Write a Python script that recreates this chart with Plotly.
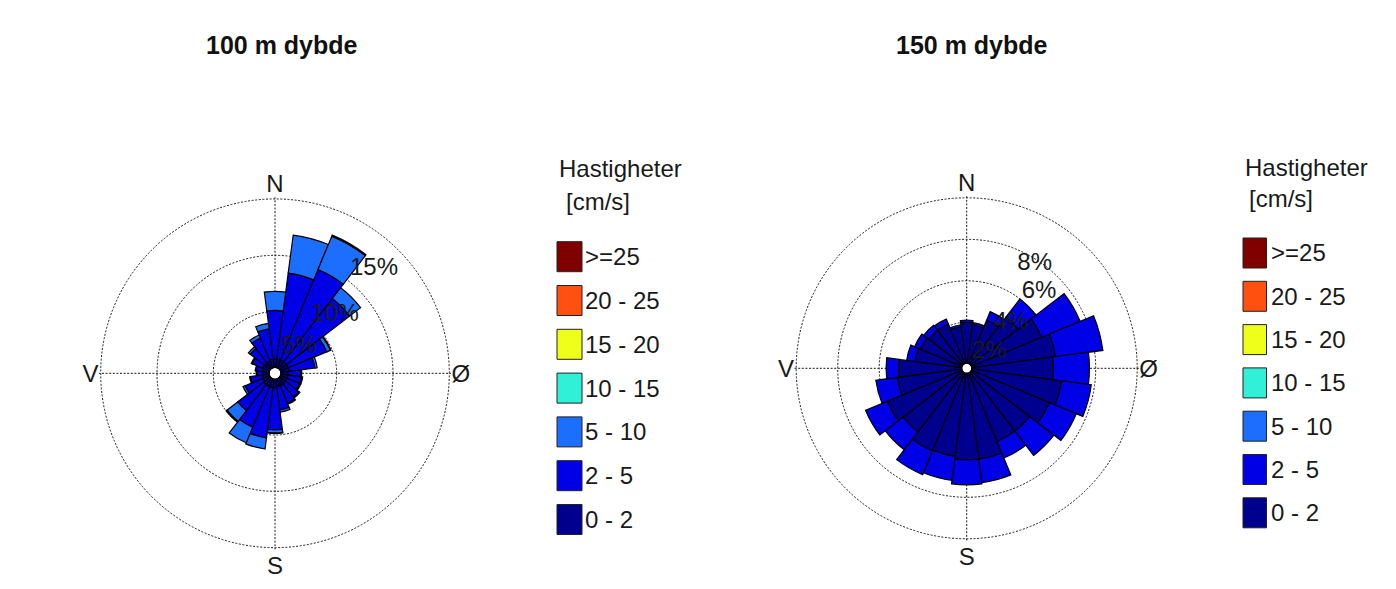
import plotly.graph_objects as go

# ---------------------------------------------------------------
# Current roses, 100 m and 150 m depth.
# Frequency (%) per 15 degree direction sector, split by speed class.
# ---------------------------------------------------------------
directions = [0, 15, 30, 45, 60, 75, 90, 105, 120, 135, 150, 165,
              180, 195, 210, 225, 240, 255, 270, 285, 300, 315, 330, 345]

speed_classes = ["0 - 2", "2 - 5", "5 - 10", "10 - 15", "15 - 20", "20 - 25", ">=25"]
class_colors = ["#00008F", "#0000E6", "#1C6EFF", "#30F0D8", "#EEFF1A", "#FF5010", "#800000"]

# 100 m depth
d100_0_2 = [0.8, 0.8, 0.8, 0.8, 0.8, 0.8, 0.7, 0.7, 0.7, 0.7, 0.7, 0.7,
            0.8, 0.8, 0.8, 0.8, 0.7, 0.7, 0.6, 0.6, 0.7, 0.7, 0.7, 0.8]
d100_2_5 = [4.3, 7.7, 8.7, 7.1, 3.7, 2.3, 1.1, 1.2, 1.2, 1.5, 1.7, 2.1,
            3.75, 4.5, 3.9, 2.9, 1.7, 1.0, 0.55, 0.65, 1.0, 1.6, 2.2, 2.7]
d100_5_10 = [1.7, 3.4, 3.2, 1.2, 0.35, 0.2, 0.1, 0.1, 0.1, 0.1, 0.1, 0.2,
             0.25, 1.0, 1.5, 1.2, 0.2, 0.1, 0.05, 0.05, 0.1, 0.2, 0.3, 0.5]
d100_10_15 = [0, 0, 0.1, 0, 0.05, 0, 0, 0, 0, 0, 0, 0,
              0.05, 0, 0, 0.1, 0, 0, 0, 0, 0, 0, 0, 0]
d100_15_20 = [0, 0, 0, 0, 0, 0, 0, 0, 0, 0, 0, 0,
              0, 0, 0, 0, 0, 0, 0, 0, 0, 0, 0, 0]
d100_20_25 = [0, 0, 0, 0, 0, 0, 0, 0, 0, 0, 0, 0,
              0, 0, 0, 0, 0, 0, 0, 0, 0, 0, 0, 0]
d100_25_up = [0, 0, 0, 0, 0, 0, 0, 0, 0, 0, 0, 0,
              0, 0, 0, 0, 0, 0, 0, 0, 0, 0, 0, 0]

# 150 m depth
d150_0_2 = [2.0, 1.9, 2.3, 2.9, 3.7, 4.1, 3.96, 4.4, 4.1, 3.6, 3.6, 4.2,
            4.2, 4.06, 4.1, 3.65, 3.93, 3.16, 3.07, 2.3, 2.2, 2.1, 2.1, 1.8]
d150_2_5 = [0.1, 0.1, 0.44, 1.1, 2.0, 2.3, 1.74, 1.44, 1.4, 1.48, 0.86, 1.14,
            1.2, 1.17, 1.23, 1.08, 1.13, 1.04, 0.6, 0.4, 0.3, 0.3, 0.25, 0.1]
d150_5_10 = [0, 0, 0, 0, 0, 0, 0, 0, 0, 0, 0, 0,
             0, 0, 0, 0, 0, 0, 0, 0, 0, 0, 0, 0]
d150_10_15 = [0, 0, 0, 0, 0, 0, 0, 0, 0, 0, 0, 0,
              0, 0, 0, 0, 0, 0, 0, 0, 0, 0, 0, 0]
d150_15_20 = [0, 0, 0, 0, 0, 0, 0, 0, 0, 0, 0, 0,
              0, 0, 0, 0, 0, 0, 0, 0, 0, 0, 0, 0]
d150_20_25 = [0, 0, 0, 0, 0, 0, 0, 0, 0, 0, 0, 0,
              0, 0, 0, 0, 0, 0, 0, 0, 0, 0, 0, 0]
d150_25_up = [0, 0, 0, 0, 0, 0, 0, 0, 0, 0, 0, 0,
              0, 0, 0, 0, 0, 0, 0, 0, 0, 0, 0, 0]

rose_100 = [d100_0_2, d100_2_5, d100_5_10, d100_10_15, d100_15_20, d100_20_25, d100_25_up]
rose_150 = [d150_0_2, d150_2_5, d150_5_10, d150_10_15, d150_15_20, d150_20_25, d150_25_up]

titles = ["100 m dybde", "150 m dybde"]
compass_text = ["N", "Ø", "S", "V"]
compass_angles = [0, 90, 180, 270]

rings_100 = [5, 10, 15]
rings_150 = [2, 4, 6, 8]
# percent labels: text, radial position, compass angle
pct_labels_100 = ["5%", "10%", "15%"]
pct_r_100 = [2.66, 6.96, 12.27]
pct_theta_100 = [42.7, 45.7, 43.6]
pct_labels_150 = ["2%", "4%", "6%", "8%"]
pct_r_150 = [1.13, 2.82, 4.84, 5.77]
pct_theta_150 = [53.2, 44.4, 43.6, 33.2]

W, H = 1396, 589
FONT = "Liberation Sans, Arial, Helvetica, sans-serif"
TEXT_COLOR = "#1a1a1a"
GRID_COLOR = "#1a1a1a"
GRID_DASH = "2px,1.6px"


def px_x(x):
    return x / W


def px_y(y):
    return 1 - y / H


fig = go.Figure()

for rose, subplot in [(rose_100, "polar"), (rose_150, "polar2")]:
    for values, name, color in zip(rose, speed_classes, class_colors):
        fig.add_trace(go.Barpolar(
            r=values, theta=directions, width=15, name=name,
            marker=dict(color=color, line=dict(color="#000000", width=1.2)),
            subplot=subplot, showlegend=False, hoverinfo="skip",
        ))

for labels, rr, tt, subplot in [(pct_labels_100, pct_r_100, pct_theta_100, "polar"),
                                (pct_labels_150, pct_r_150, pct_theta_150, "polar2")]:
    fig.add_trace(go.Scatterpolar(
        r=rr, theta=tt, mode="text", text=labels, textposition="middle center",
        textfont=dict(family=FONT, size=24, color=TEXT_COLOR),
        subplot=subplot, showlegend=False, hoverinfo="skip",
    ))


def polar_layout(cx, cy, hole_px, px_per_pct, rings):
    # leave a small margin beyond the outermost ring so it is drawn as a grid circle
    rmax = rings[-1] * 1.01
    rad = hole_px + px_per_pct * rmax
    return dict(
        domain=dict(x=[px_x(cx - rad), px_x(cx + rad)],
                    y=[px_y(cy + rad), px_y(cy - rad)]),
        hole=hole_px / rad,
        bgcolor="white",
        barmode="stack",
        radialaxis=dict(range=[0, rmax], tickvals=rings, showticklabels=False,
                        ticks="", showline=False, showgrid=True,
                        gridcolor=GRID_COLOR, gridwidth=1.2, griddash=GRID_DASH),
        angularaxis=dict(rotation=90, direction="clockwise",
                         tickvals=compass_angles, ticktext=compass_text,
                         ticks="", showline=False, showgrid=True,
                         gridcolor=GRID_COLOR, gridwidth=1.2, griddash=GRID_DASH,
                         tickfont=dict(family=FONT, size=24, color=TEXT_COLOR)),
    )


fig.update_layout(
    width=W, height=H,
    margin=dict(l=0, r=0, t=0, b=0),
    paper_bgcolor="white",
    polar=polar_layout(275, 373.3, 5.4, 11.26, rings_100),
    polar2=polar_layout(966.7, 368.3, 4.5, 20.75, rings_150),
)

shapes = []
annotations = []

# panel titles
for text, cx in zip(titles, [282, 972]):
    annotations.append(dict(
        x=px_x(cx), y=px_y(45), xref="paper", yref="paper", showarrow=False,
        text="<b>%s</b>" % text, xanchor="center", yanchor="middle",
        font=dict(family=FONT, size=25, color="#111111")))

# speed class legends
legend_specs = [
    dict(x0=557, w=25, title_y=169, unit_x=564, unit_y=201, y0=256.7, step=43.8, text_x=583),
    dict(x0=1243, w=23.5, title_y=167, unit_x=1247, unit_y=199, y0=253.0, step=43.3, text_x=1269),
]
for spec in legend_specs:
    annotations.append(dict(
        x=px_x(spec["x0"]), y=px_y(spec["title_y"]), xref="paper", yref="paper",
        showarrow=False, text="Hastigheter", xanchor="left", yanchor="middle",
        font=dict(family=FONT, size=24, color=TEXT_COLOR)))
    annotations.append(dict(
        x=px_x(spec["unit_x"]), y=px_y(spec["unit_y"]), xref="paper", yref="paper",
        showarrow=False, text="[cm/s]", xanchor="left", yanchor="middle",
        font=dict(family=FONT, size=24, color=TEXT_COLOR)))
    for i, (name, color) in enumerate(zip(speed_classes[::-1], class_colors[::-1])):
        yc = spec["y0"] + i * spec["step"]
        shapes.append(dict(
            type="rect", xref="paper", yref="paper",
            x0=px_x(spec["x0"]), x1=px_x(spec["x0"] + spec["w"]),
            y0=px_y(yc + 15), y1=px_y(yc - 15),
            fillcolor=color, line=dict(color="#222222", width=1)))
        annotations.append(dict(
            x=px_x(spec["text_x"]), y=px_y(yc), xref="paper", yref="paper",
            showarrow=False, text=name, xanchor="left", yanchor="middle",
            font=dict(family=FONT, size=24, color=TEXT_COLOR)))

fig.update_layout(shapes=shapes, annotations=annotations)

fig.write_html("out.html")
